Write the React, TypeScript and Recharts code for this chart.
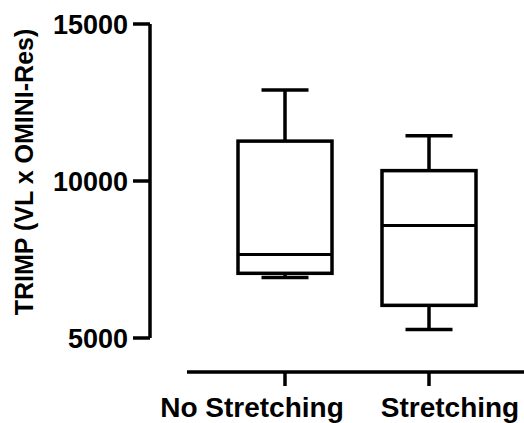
import { ComposedChart, Bar, XAxis, YAxis } from 'recharts';

const categories = ['No Stretching', 'Stretching'];
const mins = [6930, 5270];
const q1s = [7060, 6040];
const medians = [7660, 8580];
const q3s = [11270, 10330];
const maxs = [12900, 11440];
const yTicks = [5000, 10000, 15000];

const data = categories.map((name, i) => ({
  name,
  min: mins[i],
  q1: q1s[i],
  median: medians[i],
  q3: q3s[i],
  max: maxs[i],
}));

const FONT = '"Liberation Sans", Arial, sans-serif';
const LW = 3.5;

// box + whiskers, positioned from the bar's own [min, max] pixel range
const BoxShape = (props: any) => {
  const { x, y, width, height, payload } = props;
  const top = Math.min(y, y + height);
  const span = Math.abs(height);
  const ppu = span / (payload.max - payload.min);
  const py = (v: number) => top + (payload.max - v) * ppu;
  const cx = x + width / 2;
  const cap = width / 4;

  return (
    <g stroke="#000" fill="none">
      <line x1={cx} x2={cx} y1={py(payload.max)} y2={py(payload.q3)} strokeWidth={LW} />
      <line x1={cx - cap} x2={cx + cap} y1={py(payload.max)} y2={py(payload.max)} strokeWidth={LW} />
      <line x1={cx} x2={cx} y1={py(payload.q1)} y2={py(payload.min)} strokeWidth={LW} />
      <line x1={cx - cap} x2={cx + cap} y1={py(payload.min)} y2={py(payload.min)} strokeWidth={LW} />
      <rect x={x} y={py(payload.q3)} width={width} height={py(payload.q1) - py(payload.q3)} strokeWidth={LW} fill="#fff" />
      <line x1={x} x2={x + width} y1={py(payload.median)} y2={py(payload.median)} strokeWidth={3} />
    </g>
  );
};

const CategoryTick = ({ x, y, payload }: any) => {
  const dx = payload.index === 0 ? -33 : 21;
  return (
    <text x={x + dx} y={y} dy="0.71em" textAnchor="middle" fill="#000"
      style={{ fontFamily: FONT, fontWeight: 700, fontSize: 28 }}>
      {payload.value}
    </text>
  );
};

const YLabel = ({ viewBox }: any) => {
  const lx = viewBox.x + 24;
  const ly = viewBox.y + viewBox.height / 2 - 9;
  return (
    <text x={lx} y={ly} transform={`rotate(-90, ${lx}, ${ly})`} textAnchor="middle"
      dominantBaseline="central" fill="#000"
      style={{ fontFamily: FONT, fontWeight: 700, fontSize: 25 }}>
      TRIMP (VL x OMINI-Res)
    </text>
  );
};

export default function App() {
  return (
    <div style={{ position: 'absolute', left: 0, top: 0, background: '#fff' }}>
      <ComposedChart width={524} height={423} data={data}
        margin={{ top: 24, right: 0, bottom: 0, left: 0 }}>
        <YAxis
          type="number"
          domain={[5000, 15000]}
          ticks={yTicks}
          width={150}
          tickSize={17}
          tickMargin={5}
          axisLine={{ stroke: '#000', strokeWidth: LW }}
          tickLine={{ stroke: '#000', strokeWidth: LW }}
          tick={{ fill: '#000', fontFamily: FONT, fontWeight: 700, fontSize: 27 }}
          label={<YLabel />}
        />
        <XAxis
          xAxisId="box"
          dataKey="name"
          type="category"
          padding={{ left: 63, right: 23 }}
          height={34}
          axisLine={false}
          tickLine={false}
          tick={false}
        />
        <XAxis
          xAxisId="labels"
          dataKey="name"
          type="category"
          padding={{ left: 63, right: 23 }}
          height={51}
          tickSize={14}
          tickMargin={11}
          axisLine={{ stroke: '#000', strokeWidth: LW, strokeDasharray: '0 37 1000 0' }}
          tickLine={{ stroke: '#000', strokeWidth: LW }}
          tick={<CategoryTick />}
          interval={0}
        />
        <Bar
          xAxisId="box"
          dataKey={(d: any) => [d.min, d.max]}
          barSize={94}
          shape={<BoxShape />}
          isAnimationActive={false}
        />
      </ComposedChart>
    </div>
  );
}
